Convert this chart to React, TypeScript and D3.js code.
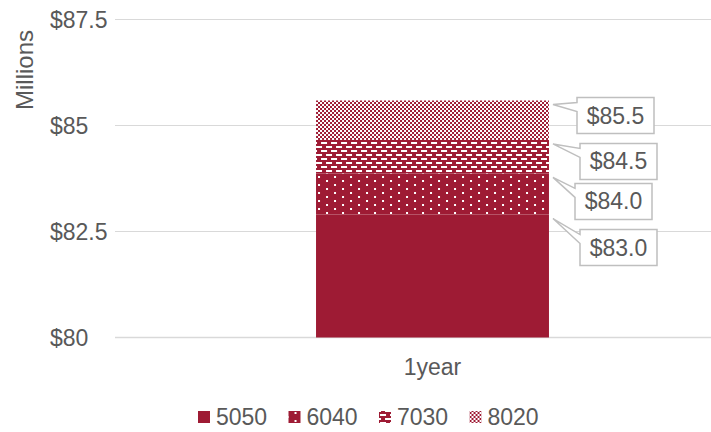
import React from "react";
import * as d3 from "d3";

const categories = ["1year"];
const seriesNames = ["5050", "6040", "7030", "8020"];
// cumulative stack tops (Millions)
const stackTops = [82.9, 83.87, 84.66, 85.59];
const labelTexts = ["$83.0", "$84.0", "$84.5", "$85.5"];
const yTicks = [80, 82.5, 85, 87.5];
const yTickLabels = ["$80", "$82.5", "$85", "$87.5"];
const yMin = 80;
const yMax = 87.5;

const W = 711;
const H = 432;
const CRIMSON = "#9E1B34";
const TEXT = "#595959";
const FONT = "'Liberation Sans', Arial, sans-serif";

// callout layout (offsets from tip)
const boxDy = [29, 24, 17.5, 11];
const boxLeft = [580, 575, 580, 577];
const BOX_W = 77;
const BOX_H = 36;

export default function App() {
  const y = d3.scaleLinear().domain([yMin, yMax]).range([337.5, 19.5]);
  const x = d3
    .scaleBand<string>()
    .domain(categories)
    .range([115, 750])
    .paddingInner(0)
    .paddingOuter(0.863);

  const bx = x(categories[0]) as number;
  const bw = x.bandwidth();

  const segs = stackTops.map((top, i) => ({
    name: seriesNames[i],
    y0: i === 0 ? yMin : stackTops[i - 1],
    y1: top,
    label: labelTexts[i],
  }));

  const fills = ["url(#p5050)", "url(#p6040)", "url(#p7030)", "url(#p8020)"];
  const legendX = d3.scaleLinear().domain([0, 1]).range([198, 288.5]);

  return (
    <svg
      width={W}
      height={H}
      style={{ position: "absolute", left: 0, top: 0, background: "#fff" }}
      fontFamily={FONT}
    >
      <defs>
        <pattern id="p5050" width={4} height={4} patternUnits="userSpaceOnUse">
          <rect width={4} height={4} fill={CRIMSON} />
        </pattern>
        <pattern id="p6040" width={16} height={8} patternUnits="userSpaceOnUse" x={bx + 2} y={0}>
          <rect width={16} height={8} fill={CRIMSON} />
          <rect x={0} y={0} width={2} height={2} fill="#fff" />
          <rect x={8} y={4} width={2} height={2} fill="#fff" />
        </pattern>
        <pattern id="p7030" width={10} height={8} patternUnits="userSpaceOnUse" x={bx} y={2}>
          <rect width={10} height={8} fill={CRIMSON} />
          <rect x={0} y={0} width={6} height={2} fill="#fff" />
          <rect x={5} y={4} width={5} height={2} fill="#fff" />
          <rect x={0} y={4} width={1} height={2} fill="#fff" />
        </pattern>
        <pattern id="p8020" width={4} height={4} patternUnits="userSpaceOnUse" x={bx} y={0}>
          <rect width={4} height={4} fill="#fff" />
          <rect x={0} y={0} width={2} height={2} fill={CRIMSON} />
          <rect x={2} y={2} width={2} height={2} fill={CRIMSON} />
        </pattern>
      </defs>

      {/* gridlines */}
      {yTicks.map((t, i) => (
        <line
          key={"g" + i}
          x1={115}
          x2={W}
          y1={y(t)}
          y2={y(t)}
          stroke="#D9D9D9"
          strokeWidth={i === 0 ? 1.5 : 1}
        />
      ))}

      {/* tick labels */}
      {yTicks.map((t, i) => (
        <text
          key={"t" + i}
          x={50}
          y={y(t)}
          dy="0.35em"
          fontSize={23}
          fill={TEXT}
          textAnchor="start"
        >
          {yTickLabels[i]}
        </text>
      ))}

      <text
        transform={`translate(33,70) rotate(-90)`}
        textAnchor="middle"
        fontSize={24}
        fill={TEXT}
      >
        Millions
      </text>

      {/* bars */}
      {segs.map((s, i) => (
        <rect
          key={"b" + i}
          x={bx}
          width={bw}
          y={y(s.y1)}
          height={y(s.y0) - y(s.y1)}
          fill={fills[i]}
        />
      ))}

      {/* callouts */}
      {segs.map((s, i) => {
        const tipX = bx + bw + 4;
        const tipY = y(s.y1) + 4;
        const cy = tipY + boxDy[i];
        const x0 = boxLeft[i];
        const y0 = cy - BOX_H / 2;
        const x1 = x0 + BOX_W;
        const y1 = y0 + BOX_H;
        const yA = y0 + 5;
        const yB = y0 + 14;
        const d = `M${x0},${y0} H${x1} V${y1} H${x0} V${yB} L${tipX},${tipY} L${x0},${yA} Z`;
        return (
          <g key={"c" + i}>
            <path d={d} fill="#fff" stroke="#BFBFBF" strokeWidth={1.5} />
            <text
              x={(x0 + x1) / 2}
              y={cy}
              dy="0.35em"
              textAnchor="middle"
              fontSize={23}
              fill={TEXT}
            >
              {s.label}
            </text>
          </g>
        );
      })}

      {/* category label */}
      <text
        x={bx + bw / 2}
        y={375}
        textAnchor="middle"
        fontSize={23}
        fill={TEXT}
      >
        {categories[0]}
      </text>

      {/* legend */}
      {seriesNames.map((n, i) => (
        <g key={"l" + i} transform={`translate(${legendX(i)},0)`}>
          <rect x={0} y={411} width={12} height={12} fill={fills[i]} />
          <text x={18} y={417} dy="0.35em" fontSize={23} fill={TEXT}>
            {n}
          </text>
        </g>
      ))}
    </svg>
  );
}
